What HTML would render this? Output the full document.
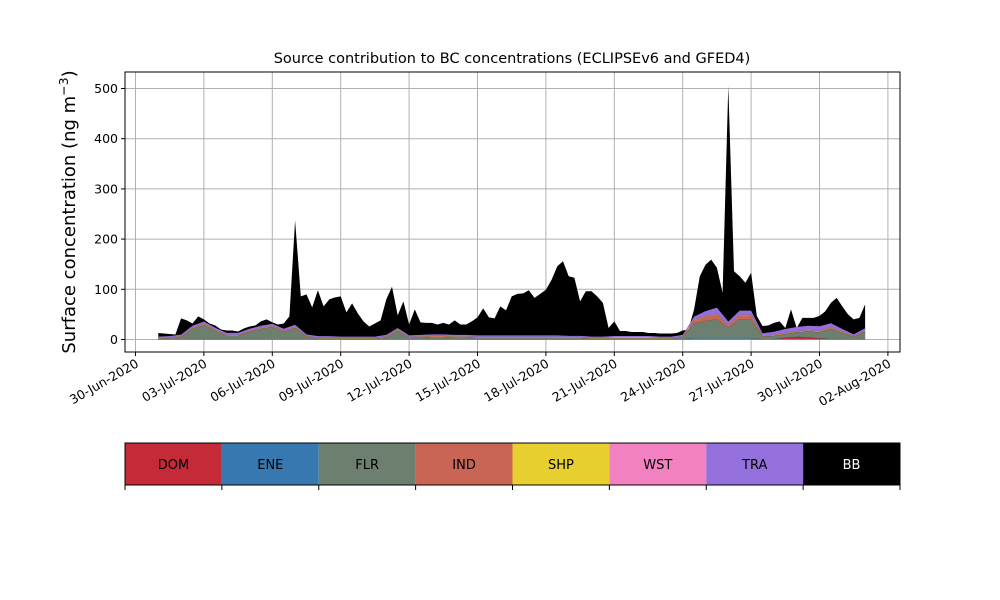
<!DOCTYPE html>
<html><head><meta charset="utf-8"><style>
html,body{margin:0;padding:0;background:#fff;width:1000px;height:600px;overflow:hidden}
svg{display:block;font-family:"DejaVu Sans","Liberation Sans",sans-serif}
</style></head><body>
<svg id="c" width="1000" height="600" xmlns="http://www.w3.org/2000/svg"></svg>
<script>
// Total (BB top) concentration, 6-hourly from 01-Jul-2020 00:00
const totalValues=[13,12,11,10,42,38,32,46,40,32,28,20,18,18,16,22,26,28,36,40,34,30,32,46,237,86,90,64,98,66,80,84,86,54,72,52,36,26,32,38,80,105,48,76,30,60,34,33,33,30,33,30,38,30,30,36,44,62,44,42,66,58,86,91,92,98,83,91,99,119,146,156,126,123,76,96,96,86,73,23,36,17,17,15,15,15,13,13,12,12,12,13,18,20,60,126,149,159,143,93,505,136,126,113,133,47,27,28,33,36,23,60,23,43,43,43,47,56,73,83,66,50,40,43,70];
// Component series, 12-hourly from 01-Jul-2020 00:00
const DOM=[0.5,0.5,0.5,0.5,0.5,0.5,0.5,0.5,0.5,0.5,0.5,0.5,0.5,0.5,0.5,0.5,0.5,0.5,0.5,0.5,0.5,0.5,0.5,0.5,0.5,0.5,0.5,0.5,0.5,0.5,0.5,0.5,0.5,0.5,0.5,0.5,0.5,0.5,0.5,0.5,0.5,0.5,0.5,0.5,0.5,0.5,0.5,1,1,1,1,1,1,0.5,0.5,3,5,4,2,0.5,0.5,0.5,0.5];
const ENE=[0.5,0.5,0.5,0.5,0.5,0.5,0.5,0.5,0.5,0.5,0.5,0.5,0.5,0.5,0.5,0.5,0.5,0.5,0.5,0.5,0.5,0.5,0.5,0.5,0.5,0.5,0.5,0.5,0.5,0.5,0.5,0.5,0.5,0.5,0.5,0.5,0.5,0.5,0.5,0.5,0.5,0.5,0.5,0.5,0.5,0.5,0.5,1,1,1,1,1,1,0.5,0.5,0.5,0.5,0.5,0.5,0.5,0.5,0.5,0.5];
const FLR=[1,2,4,20,28,16,6,6,14,20,24,14,22,4,1,1,1,1,1,1,3,16,2,3,4,4,3,3,2,2,2,2,2,2,2,2,2,2,1,1,1,1,1,1,1,1,3,30,35,38,22,38,38,5,6,7,9,11,12,20,12,4,14];
const IND=[0.5,0.5,0.5,1,1.5,1,1,1,1,1,1,1,1,1,0.5,0.5,0.5,0.5,0.5,0.5,1,1.5,1,1,1,1,1,1,1,1,1,1,1,1,1,1,1,1,0.5,0.5,0.5,0.5,0.5,0.5,0.5,0.5,1,6,8,10,4,8,8,1,1,1,1,1.5,1.5,2,1.5,1,1];
const SHP=[0.8,0.8,0.8,0.8,0.8,0.8,0.8,0.8,0.8,0.8,0.8,0.8,0.8,0.8,0.8,0.8,0.8,0.8,0.8,0.8,0.8,0.8,0.8,0.8,0.8,0.8,0.8,0.8,0.8,0.8,0.8,0.8,0.8,0.8,0.8,0.8,0.8,0.8,0.8,0.8,2,2,2,2,0.8,0.8,0.8,1,1,1,1,1,1,1,1,1,1,1,1,1,1,0.8,0.8];
const WST=[0.5,0.5,0.5,0.5,0.5,0.5,0.5,0.5,0.5,0.5,0.5,0.5,0.5,0.5,0.5,0.5,0.5,0.5,0.5,0.5,0.5,0.5,0.5,0.5,0.5,0.5,0.5,0.5,0.5,0.5,0.5,0.5,0.5,0.5,0.5,0.5,0.5,0.5,0.5,0.5,0.5,0.5,0.5,0.5,0.5,0.5,0.5,0.5,0.5,0.5,0.5,0.5,0.5,0.5,0.5,0.5,0.5,0.5,0.5,0.5,0.5,0.5,0.5];
const TRA=[2,2,3,4,4,4,4,4,4,4,4,4,4,3,3,3,2,2,2,2,3,3,3,3,3,3,3,3,3,3,3,3,3,3,3,3,2,2,2,2,2,2,2,2,2,2,3,6,10,12,6,8,8,4,6,8,8,9,9,8,5,3,5];
const sourceNames=["DOM","ENE","FLR","IND","SHP","WST","TRA","BB"];
const sourceColors=["#c52a39","#3878b1","#6d8070","#c86555","#e6cf2f","#f281c1","#9370db","#000000"];
const xTickLabels=["30-Jun-2020","03-Jul-2020","06-Jul-2020","09-Jul-2020","12-Jul-2020","15-Jul-2020","18-Jul-2020","21-Jul-2020","24-Jul-2020","27-Jul-2020","30-Jul-2020","02-Aug-2020"];
const yTicks=[0,100,200,300,400,500];

const S=document.getElementById('c');const NS="http://www.w3.org/2000/svg";
function mk(t,a,p){const e=document.createElementNS(NS,t);for(const k in a)e.setAttribute(k,a[k]);(p||S).appendChild(e);return e;}
const L=125,R=900,T=72,B=352;
// day index relative to 30-Jun-2020 00:00
const X=d=>135.5+d*22.8;
const Y=v=>339.5-v*0.502;

let e=mk('text',{x:512,y:63,'text-anchor':'middle','font-size':14.5});e.textContent="Source contribution to BC concentrations (ECLIPSEv6 and GFED4)";


// grid
xTickLabels.forEach((s,i)=>{const x=X(i*3);
 e=mk('line',{x1:x,x2:x,y1:T,y2:B,stroke:'#b0b0b0','stroke-width':1});
 });
yTicks.forEach(v=>{e=mk('line',{x1:L,x2:R,y1:Y(v),y2:Y(v),stroke:'#b0b0b0','stroke-width':1});
 });

// BB total area
let d="M"+X(1)+","+Y(0);
totalValues.forEach((v,k)=>{d+=" L"+X(1+k*0.25).toFixed(2)+","+Y(v).toFixed(2);});
d+=" L"+X(1+(totalValues.length-1)*0.25)+","+Y(0)+"Z";
e=mk('path',{d:d,fill:'#000'});


// stacked components
const comps=[DOM,ENE,FLR,IND,SHP,WST,TRA];
let base=FLR.map(()=>0);
comps.forEach((arr,ci)=>{
 const top=arr.map((v,j)=>base[j]+v);
 let p="";
 top.forEach((v,j)=>{p+=(j?" L":"M")+X(1+j*0.5).toFixed(2)+","+Y(v).toFixed(2);});
 for(let j=base.length-1;j>=0;j--)p+=" L"+X(1+j*0.5).toFixed(2)+","+Y(base[j]).toFixed(2);
 p+="Z";
 const a=mk('path',{d:p,fill:sourceColors[ci]});
 
 
 base=top;
});

// spines
e=mk('rect',{x:L,y:T,width:R-L,height:B-T,fill:'none',stroke:'#000','stroke-width':1});


// x ticks
xTickLabels.forEach((s,i)=>{const x=X(i*3);
 e=mk('line',{x1:x,x2:x,y1:B,y2:B+4,stroke:'#000'});
 
 e=mk('text',{x:x+4,y:B+14,'text-anchor':'end','font-size':12.5,transform:`rotate(-30 ${x+4} ${B+14})`});
 e.textContent=s;});
yTicks.forEach(v=>{const y=Y(v);
 e=mk('line',{x1:L-4,x2:L,y1:y,y2:y,stroke:'#000'});
 
 e=mk('text',{x:L-7,y:y+4.5,'text-anchor':'end','font-size':12.5});
 e.textContent=v;});

e=mk('text',{x:0,y:0,'text-anchor':'middle','font-size':18,transform:'translate(75,212) rotate(-90)'});
e.innerHTML='Surface concentration (ng m<tspan dy="-7" font-size="12.5">−3</tspan><tspan dy="7">)</tspan>';


// legend colorbar
const g=mk('g',{});
const w=(R-L)/8;
sourceNames.forEach((n,i)=>{const x=L+i*w;
 const r=mk('rect',{x:x,y:443,width:w,height:42,fill:sourceColors[i]},g);
 
 const t=mk('text',{x:x+w/2,y:469,'text-anchor':'middle','font-size':13,fill:n==="BB"?'#fff':'#000'},g);
 t.textContent=n;
});
for(let i=0;i<=8;i++){const x=L+i*w;
 e=mk('line',{x1:x,x2:x,y1:485,y2:490,stroke:'#000'},g);
 }
e=mk('rect',{x:L,y:443,width:R-L,height:42,fill:'none',stroke:'#000'},g);

</script>
</body></html>
